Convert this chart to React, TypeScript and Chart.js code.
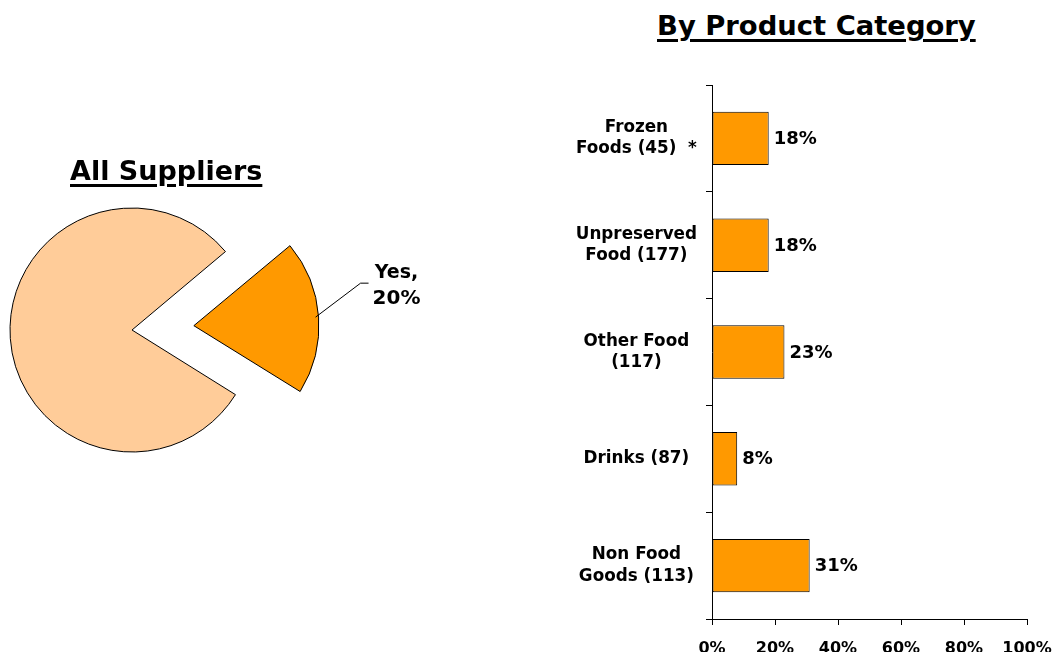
import React, { useEffect, useRef } from 'react';
import { Chart, registerables } from 'chart.js';
Chart.register(...registerables);

const FONT = "'DejaVu Sans', Verdana, sans-serif";

const pieTitle = 'All Suppliers';
const pieLabels = ['Yes', 'No'];
const pieValues = [20, 80];
const pieColors = ['#FF9900', '#FFCC99'];

const barTitle = 'By Product Category';
const categoryLabels = [
  ['Frozen', 'Foods (45)  *'],
  ['Unpreserved', 'Food (177)'],
  ['Other Food', '(117)'],
  ['Drinks (87)'],
  ['Non Food', 'Goods (113)'],
];
const categoryValues = [18, 18, 23, 8, 31];
const barColor = '#FF9900';
const xMin = 0;
const xMax = 100;
const xStep = 20;

const pieLabelPlugin = {
  id: 'pieLabel',
  afterDatasetsDraw(chart: any) {
    const arc = chart.getDatasetMeta(0).data[0];
    if (!arc) return;
    const { x, y, startAngle, endAngle, outerRadius } = arc.getProps(
      ['x', 'y', 'startAngle', 'endAngle', 'outerRadius'],
      true
    );
    const off = (arc.options.offset || 0) / 4;
    const mid = (startAngle + endAngle) / 2;
    const px = x + (off + outerRadius) * Math.cos(mid);
    const py = y + (off + outerRadius) * Math.sin(mid);
    const ctx = chart.ctx;
    ctx.save();
    ctx.strokeStyle = '#000';
    ctx.lineWidth = 1;
    ctx.beginPath();
    ctx.moveTo(px, py);
    ctx.lineTo(px + 45, py - 34);
    ctx.lineTo(px + 53, py - 34);
    ctx.stroke();
    ctx.fillStyle = '#000';
    ctx.font = `bold 19px ${FONT}`;
    ctx.textAlign = 'center';
    ctx.textBaseline = 'alphabetic';
    ctx.fillText(pieLabels[0] + ',', px + 81, py - 39);
    ctx.font = `bold 20px ${FONT}`;
    ctx.fillText(pieValues[0] + '%', px + 81, py - 13);
    ctx.restore();
  },
};

const barValuePlugin = {
  id: 'barValues',
  afterDatasetsDraw(chart: any) {
    const meta = chart.getDatasetMeta(0);
    const ctx = chart.ctx;
    ctx.save();
    ctx.font = `bold 18px ${FONT}`;
    ctx.fillStyle = '#000';
    ctx.textAlign = 'left';
    ctx.textBaseline = 'middle';
    meta.data.forEach((el: any, i: number) => {
      ctx.fillText(categoryValues[i] + '%', el.x + 5, el.y + 1);
    });
    ctx.restore();
  },
};

export default function App() {
  const pieRef = useRef<HTMLCanvasElement>(null);
  const barRef = useRef<HTMLCanvasElement>(null);

  useEffect(() => {
    const pie = new Chart(pieRef.current!, {
      type: 'pie',
      data: {
        labels: pieLabels,
        datasets: [
          {
            data: pieValues,
            backgroundColor: pieColors,
            borderColor: '#000',
            borderWidth: 1,
            borderJoinStyle: 'miter',
            offset: [248, 0],
          } as any,
        ],
      },
      options: {
        responsive: false,
        animation: false,
        rotation: 50,
        radius: 122,
        layout: { padding: { left: 0, right: 196, top: 200, bottom: 192 } },
        plugins: { legend: { display: false }, tooltip: { enabled: false } },
      } as any,
      plugins: [pieLabelPlugin],
    });

    const bar = new Chart(barRef.current!, {
      type: 'bar',
      data: {
        labels: categoryLabels,
        datasets: [
          {
            data: categoryValues,
            backgroundColor: barColor,
            borderColor: '#000',
            borderWidth: 1,
            borderSkipped: false,
            barPercentage: 0.5,
            categoryPercentage: 1,
          } as any,
        ],
      },
      options: {
        indexAxis: 'y',
        responsive: false,
        animation: false,
        layout: { padding: { top: 25, right: 28, left: 0, bottom: 0 } },
        plugins: { legend: { display: false }, tooltip: { enabled: false } },
        scales: {
          x: {
            min: xMin,
            max: xMax,
            ticks: {
              stepSize: xStep,
              callback: (v: any) => v + '%',
              color: '#000',
              font: { family: FONT, size: 16, weight: 'bold' },
              padding: 14,
              maxRotation: 0,
            },
            grid: { drawOnChartArea: false, drawTicks: true, tickLength: 6, color: '#000' },
            border: { color: '#000', width: 1 },
            afterFit: (s: any) => {
              s.height = 33;
              s.paddingLeft = 0;
              s.paddingRight = 0;
            },
          },
          y: {
            ticks: {
              crossAlign: 'center',
              color: '#000',
              font: { family: FONT, size: 16.8, weight: 'bold', lineHeight: 1.27 },
              padding: 9,
              autoSkip: false,
            },
            grid: { drawOnChartArea: false, drawTicks: true, tickLength: 6, color: '#000', offset: true },
            border: { color: '#000', width: 1 },
            afterFit: (s: any) => {
              s.width = 172;
              s.paddingTop = 0;
              s.paddingBottom = 0;
            },
          },
        },
      } as any,
      plugins: [barValuePlugin],
    });

    return () => {
      pie.destroy();
      bar.destroy();
    };
  }, []);

  const titleStyle: React.CSSProperties = {
    position: 'absolute',
    fontFamily: FONT,
    fontWeight: 'bold',
    lineHeight: 1,
    textDecoration: 'underline',
    textDecorationThickness: '3px',
    textUnderlineOffset: '4px',
    whiteSpace: 'nowrap',
    color: '#000',
  };

  return (
    <div style={{ position: 'absolute', left: 0, top: 0, width: 1055, height: 652, background: '#fff', overflow: 'hidden' }}>
      <canvas ref={pieRef} width={460} height={652} style={{ position: 'absolute', left: 0, top: 0, display: 'block' }} />
      <canvas ref={barRef} width={515} height={592} style={{ position: 'absolute', left: 540, top: 60, display: 'block' }} />
      <div style={{ ...titleStyle, left: 70, top: 157, fontSize: 27 }}>{pieTitle}</div>
      <div style={{ ...titleStyle, left: 657, top: 12, fontSize: 27.4 }}>{barTitle}</div>
    </div>
  );
}
